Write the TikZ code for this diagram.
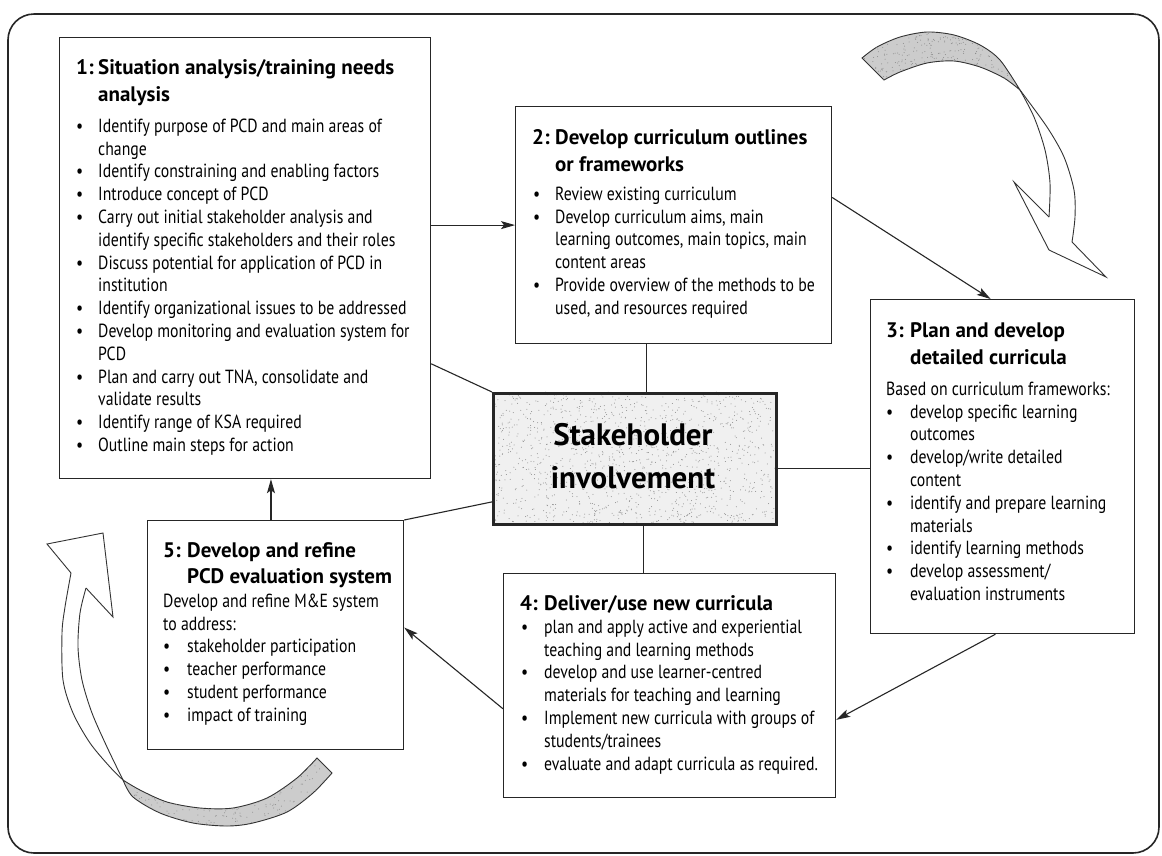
\documentclass[tikz,border=0pt]{standalone}
\usepackage{fontspec}
\setmainfont{PT Sans}[FakeStretch=0.83]
\newfontfamily\hd{PT Sans}
\usetikzlibrary{arrows.meta,calc}
\newcommand{\topstrut}[1][17pt]{\rule{0pt}{#1}}
\newcommand{\bi}[2][22pt]{\makebox[#1][l]{\textbullet}#2}
\newcommand{\ci}[2][22pt]{\hspace*{#1}#2}
\newcommand{\nr}[2][23pt]{\makebox[#1][l]{#2}}
% scatter fine grain dots inside a rectangle: x, y, width, height, count
\newcommand{\grain}[5]{%
  \foreach \k in {1,...,#5}{%
    \pgfmathsetmacro{\gx}{#1+#3*rnd}%
    \pgfmathsetmacro{\gy}{#2+#4*rnd}%
    \fill[black!45] (\gx,\gy) circle (0.5pt);}}
\begin{document}
\begin{tikzpicture}[x=1pt,y=-1pt,
  stagebox/.style={draw=black!85, line width=1.2pt, fill=white, inner sep=0pt, anchor=north west},
  hubbox/.style={draw=black!85, line width=3pt, inner sep=0pt, anchor=north west},
  body/.style={inner sep=0pt, anchor=north west, align=left, text=black,
    font=\fontsize{19}{22.8}\selectfont},
  head/.style={inner sep=0pt, anchor=north west, align=left, text=black,
    font=\hd\bfseries\fontsize{21}{27}\selectfont},
  link/.style={line width=1.1pt, draw=black!85},
  flow/.style={link, -{Stealth[length=14pt,width=8pt,inset=3pt]}},
  ribbon/.style={draw=black!80, line width=0.9pt, fill=black!20},
  ribline/.style={draw=black!80, line width=0.9pt, line join=miter}]

\useasboundingbox (0,0) rectangle (1162,855);
\fill[white] (0,0) rectangle (1162,855);
\pgfmathsetseed{7}

% outer frame
\draw[black!85, line width=1.6pt, rounded corners=26pt] (8,14) rectangle (1159,853);

% curved block arrow, top right
\filldraw[ribbon]
  plot[smooth] coordinates {(862,58) (877,47) (900,37) (927,32) (954,35) (980,45) (1000,60) (1020,90)}
  -- plot[smooth] coordinates {(1020,90) (1004,78) (980,67) (954,61) (927,63) (900,72) (884,80)}
  -- cycle;
\begin{scope}
  \clip plot[smooth] coordinates {(862,58) (877,47) (900,37) (927,32) (954,35) (980,45) (1000,60) (1020,90)}
    -- plot[smooth] coordinates {(1020,90) (1004,78) (980,67) (954,61) (927,63) (900,72) (884,80)} -- cycle;
  \grain{860}{30}{162}{62}{450}
\end{scope}
\draw[ribline] plot[smooth] coordinates {(1020,90) (1047,127) (1064,157) (1074,190) (1075,217) (1072,242)};
\draw[ribline] plot[smooth] coordinates {(1020,90) (1034,117) (1045,150) (1050,183) (1049,217)};
\draw[ribline] (1049,217) -- (1014,182) -- (1049,250) -- (1106,277) -- (1072,242);

% curved block arrow, bottom left
\filldraw[ribbon]
  plot[smooth] coordinates {(332,773) (313,793) (287,812) (253,823) (227,826) (193,823) (160,813) (133,797) (123,780)}
  -- plot[smooth] coordinates {(123,780) (140,790) (167,802) (200,808) (233,808) (267,798) (297,778) (317,758)}
  -- cycle;
\begin{scope}
  \clip plot[smooth] coordinates {(332,773) (313,793) (287,812) (253,823) (227,826) (193,823) (160,813) (133,797) (123,780)}
    -- plot[smooth] coordinates {(123,780) (140,790) (167,802) (200,808) (233,808) (267,798) (297,778) (317,758)} -- cycle;
  \grain{120}{755}{215}{73}{500}
\end{scope}
\draw[ribline] plot[smooth] coordinates {(123,780) (110,767) (90,743) (73,713) (63,680) (62,633) (65,607) (71,573)};
\draw[ribline] plot[smooth] coordinates {(123,780) (107,747) (92,713) (82,680) (78,647) (80,613) (86,588)};
\draw[ribline] (71,573) -- (47,544) -- (103,533) -- (113,617) -- (86,588);

% stage boxes
\node[stagebox, minimum width=371pt, minimum height=441pt] (b1) at (59,37) {};
\node[stagebox, minimum width=316pt, minimum height=237pt] (b2) at (515,106) {};
\node[stagebox, minimum width=264pt, minimum height=334pt] (b3) at (870,299) {};
\node[stagebox, minimum width=332pt, minimum height=224pt] (b4) at (503,573) {};
\node[stagebox, minimum width=256pt, minimum height=229pt] (b5) at (147,520) {};

% hub with a light grained tone
\fill[black!6] (492,392) rectangle (775,523);
\grain{492}{392}{283}{131}{1300}
\node[hubbox, minimum width=283pt, minimum height=131pt] (c) at (492,392) {};

% connectors
\draw[flow] (b1.east |- b2.west) -- (b2.west);
\draw[link] ($(b1.north east)!0.739!(b1.south east)$) -- (c.north west);
\draw[link] ($(c.north west)!0.54!(c.north east)$) coordinate (c2) -- (c2 |- b2.south);
\draw[link] ($(c.north east)!0.57!(c.south east)$) coordinate (c3) -- (c3 -| b3.west);
\draw[link] ($(c.south west)!0.53!(c.south east)$) coordinate (c4) -- (c4 |- b4.north);
\draw[link] ($(c.north west)!0.82!(c.south west)$) -- (b5.north east);
\draw[flow] ($(b2.north east)!0.384!(b2.south east)$) -- ($(b3.north west)!0.455!(b3.north east)$);
\draw[flow] ($(b3.south west)!0.473!(b3.south east)$) -- ($(b4.north east)!0.652!(b4.south east)$);
\draw[flow] ($(b4.north west)!0.603!(b4.south west)$) -- ($(b5.north east)!0.467!(b5.south east)$);
\draw[flow] ($(b5.north west)!0.482!(b5.north east)$) coordinate (c5) -- (c5 |- b1.south);

% box 1
\node[head] (t1) at (76,57) {\topstrut\nr[22pt]{1:}Situation analysis/training needs\\
  \hspace*{22pt}analysis};
\node[body] (d1) at (76,115) {\topstrut\bi{Identify purpose of PCD and main areas of}\\
  \ci{change}\\
  \bi{Identify constraining and enabling factors}\\
  \bi{Introduce concept of PCD}\\
  \bi{Carry out initial stakeholder analysis and}\\
  \ci{identify specific stakeholders and their roles}\\
  \bi{Discuss potential for application of PCD in}\\
  \ci{institution}\\
  \bi{Identify organizational issues to be addressed}\\
  \bi{Develop monitoring and evaluation system for}\\
  \ci{PCD}\\
  \bi{Plan and carry out TNA, consolidate and}\\
  \ci{validate results}\\
  \bi{Identify range of KSA required}\\
  \bi{Outline main steps for action}};

% box 2
\node[head] (t2) at (532,127) {\topstrut\nr{2:}Develop curriculum outlines\\
  \hspace*{23pt}or frameworks};
\node[body] (d2) at (533,183) {\topstrut\bi{Review existing curriculum}\\
  \bi{Develop curriculum aims, main}\\
  \ci{learning outcomes, main topics, main}\\
  \ci{content areas}\\
  \bi{Provide overview of the methods to be}\\
  \ci{used, and resources required}};

% box 3
\node[head] (t3) at (886,320) {\topstrut\nr[24pt]{3:}Plan and develop\\
  \hspace*{24pt}detailed curricula};
\node[body] (d3) at (886,378) {\topstrut Based on curriculum frameworks:\\
  \bi[24pt]{develop specific learning}\\
  \ci[24pt]{outcomes}\\
  \bi[24pt]{develop/write detailed}\\
  \ci[24pt]{content}\\
  \bi[24pt]{identify and prepare learning}\\
  \ci[24pt]{materials}\\
  \bi[24pt]{identify learning methods}\\
  \bi[24pt]{develop assessment/}\\
  \ci[24pt]{evaluation instruments}};

% box 4
\node[head] (t4) at (520,593) {\topstrut\nr[24pt]{4:}Deliver/use new curricula};
\node[body] (d4) at (521,616) {\topstrut\bi[23pt]{plan and apply active and experiential}\\
  \ci[23pt]{teaching and learning methods}\\
  \bi[23pt]{develop and use learner-centred}\\
  \ci[23pt]{materials for teaching and learning}\\
  \bi[23pt]{Implement new curricula with groups of}\\
  \ci[23pt]{students/trainees}\\
  \bi[23pt]{evaluate and adapt curricula as required.}};

% box 5
\node[head, font=\hd\bfseries\fontsize{21}{26}\selectfont] (t5) at (163,540) {\topstrut\nr[24pt]{5:}Develop and refine\\
  \hspace*{24pt}PCD evaluation system};
\node[body] (d5) at (163,590) {\topstrut Develop and refine M\&E system\\
  to address:\\
  \bi[24pt]{stakeholder participation}\\
  \bi[24pt]{teacher performance}\\
  \bi[24pt]{student performance}\\
  \bi[24pt]{impact of training}};

% hub text
\node[inner sep=0pt, anchor=north, align=center, text=black,
  font=\hd\bfseries\fontsize{31}{43}\selectfont] (ct) at (633,420)
  {\topstrut[25pt]Stakeholder\\involvement};
\end{tikzpicture}
\end{document}
